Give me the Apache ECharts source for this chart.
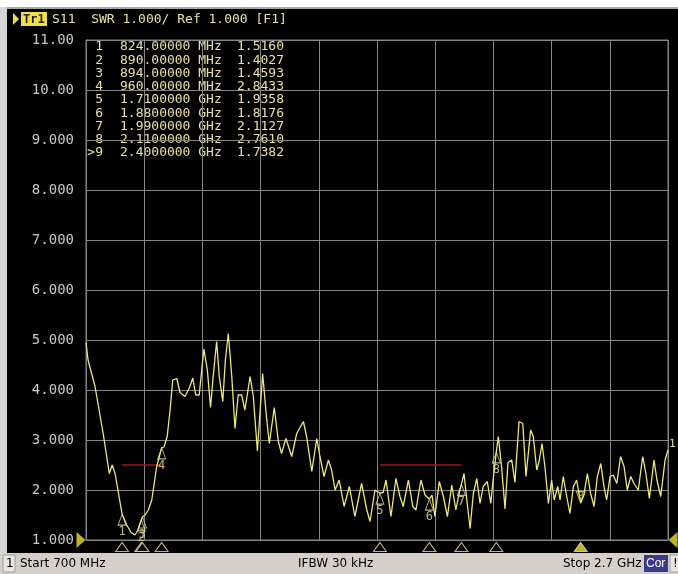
<!DOCTYPE html>
<html><head><meta charset="utf-8">
<script src="https://cdn.jsdelivr.net/npm/echarts@6/dist/echarts.min.js"></script>
<style>html,body{margin:0;padding:0;background:#fff;}#c{width:678px;height:574px;}</style>
</head><body><div id="c"></div>
<script>
// Trace S11 SWR (frequency in MHz)
const traceFreq = [700,707,731,759,780,790,800,824,840,855,868,879,890,894,903,914,926,943,960,968,979,989,998,1012,1023,1040,1055,1067,1077,1089,1105,1117,1128,1137,1149,1158,1170,1179,1189,1201,1212,1223,1235,1246,1264,1275,1289,1307,1320,1330,1347,1361,1372,1387,1407,1424,1447,1458,1476,1493,1504,1518,1533,1544,1556,1570,1587,1605,1624,1647,1665,1676,1693,1710,1721,1731,1748,1765,1779,1790,1808,1823,1834,1851,1865,1880,1889,1899,1914,1928,1942,1957,1971,1982,1990,1999,2010,2020,2031,2043,2054,2065,2079,2091,2102,2110,2117,2128,2140,2150,2163,2174,2188,2201,2212,2228,2237,2249,2258,2267,2277,2289,2300,2309,2321,2329,2340,2351,2363,2375,2386,2400,2411,2423,2434,2446,2457,2469,2480,2489,2501,2512,2524,2537,2549,2560,2572,2583,2598,2613,2624,2636,2652,2662,2675,2690,2700];
const traceSwr = [4.95,4.6,4.07,3.13,2.33,2.5,2.33,1.516,1.3,1.15,1.1,1.2,1.4027,1.4593,1.5,1.6,1.8,2.47,2.8433,2.86,3.07,3.6,4.2,4.23,3.95,3.87,4.04,4.24,3.9,3.9,4.82,4.4,3.65,4.27,4.97,4.27,3.77,4.6,5.13,4.27,3.23,3.9,3.9,3.6,4.27,3.87,2.78,4.33,3.47,2.93,3.65,2.97,2.73,3.03,2.67,3.13,3.37,3.07,2.37,3.03,2.67,2.27,2.6,2.4,2.0,2.2,1.67,2.07,1.47,2.13,1.6,1.37,2.0,1.9358,1.95,2.2,1.47,2.23,1.87,1.67,2.2,1.67,1.6,2.2,1.9,1.8176,1.9,1.47,2.17,1.87,1.47,2.1,1.6,1.93,2.1127,2.33,1.73,1.23,1.93,2.23,1.73,2.07,2.17,1.73,2.37,2.761,3.07,2.47,1.62,2.55,2.6,2.15,3.37,3.33,2.27,3.2,3.07,2.4,2.6,2.93,2.47,1.73,2.2,1.8,2.07,1.8,2.27,1.9,1.53,2.07,2.2,1.7382,1.9,2.33,1.93,1.67,2.27,2.53,2.07,1.8,2.27,2.3,2.13,2.67,2.47,2.0,2.27,2.13,2.0,2.67,2.33,1.83,2.6,2.2,1.87,2.6,2.8];

// Markers
const markerNums = ['1','2','3','4','5','6','7','8','9'];
const markerFreq = [824,890,894,960,1710,1880,1990,2110,2400];
const markerSwr = [1.5160,1.4027,1.4593,2.8433,1.9358,1.8176,2.1127,2.7610,1.7382];
const activeMarker = 8;

// Limit lines
const limitLow = [[824,2.5],[960,2.5]];
const limitHigh = [[1710,2.5],[1990,2.5]];

// Axis
const xStart = 700, xStop = 2700, xStep = 200;
const yMin = 1, yMax = 11, yStep = 1;

const headerText = 'S11  SWR 1.000/ Ref 1.000 [F1]';
const statusStart = 'Start 700 MHz';
const statusIfbw = 'IFBW 30 kHz';
const statusStop = 'Stop 2.7 GHz';

const pale = '#e8e0a0';
const gridCol = '#858585';
const mono = 'DejaVu Sans Mono';

function fmtFreq(f){ return f < 1000 ? f.toFixed(5) + ' MHz' : (f/1000).toFixed(7) + ' GHz'; }

const chart = echarts.init(document.getElementById('c'));

const graphics = [
  {type:'rect', shape:{x:0,y:0,width:678,height:7}, style:{fill:'#ffffff'}},
  {type:'rect', shape:{x:0,y:7,width:678,height:2}, style:{fill:'#a8a8a8'}},
  {type:'rect', shape:{x:0,y:7,width:7,height:547}, style:{fill:'#d6d6d6'}},
  {type:'rect', shape:{x:0,y:553,width:678,height:21}, style:{fill:'#d4d0c8'}},
  {type:'rect', shape:{x:3,y:555,width:12,height:17}, style:{fill:'#e8e6e0', stroke:'#a0a0a0', lineWidth:1}},
  {type:'text', x:6, y:564, style:{text:'1', fill:'#000', font:'12px "DejaVu Sans"', verticalAlign:'middle'}},
  {type:'text', x:20, y:564, style:{text:statusStart, fill:'#000', font:'12px "DejaVu Sans"', verticalAlign:'middle'}},
  {type:'text', x:298, y:564, style:{text:statusIfbw, fill:'#000', font:'12px "DejaVu Sans"', verticalAlign:'middle'}},
  {type:'text', x:563, y:564, style:{text:statusStop, fill:'#000', font:'12px "DejaVu Sans"', verticalAlign:'middle'}},
  {type:'rect', shape:{x:644,y:555,width:24,height:17}, style:{fill:'#3a3a8c'}},
  {type:'text', x:646, y:564, style:{text:'Cor', fill:'#fff', font:'12px "Liberation Sans"', verticalAlign:'middle'}},
  {type:'rect', shape:{x:670,y:555,width:10,height:17}, style:{fill:'#e8e6e0', stroke:'#a0a0a0', lineWidth:1}},
  {type:'text', x:673, y:564, style:{text:'!', fill:'#000', font:'12px "DejaVu Sans"', verticalAlign:'middle'}},
  {type:'polygon', shape:{points:[[13,13],[19,19],[13,25]]}, style:{fill:'#f0e040'}},
  {type:'rect', shape:{x:21,y:12,width:26,height:14}, style:{fill:'#f0e040'}},
  {type:'text', x:23, y:19.5, style:{text:'Tr1', fill:'#202020', font:'bold 12px "DejaVu Sans Mono"', verticalAlign:'middle'}},
  {type:'text', x:52, y:19.5, style:{text:headerText, fill:pale, font:'13px "DejaVu Sans Mono"', verticalAlign:'middle'}}
];
markerNums.forEach((n,i)=>{
  const y = 47 + i*13.25;
  graphics.push({type:'text', x:103, y:y, style:{text:(i===activeMarker?'>':'')+n, fill:pale, font:'13px "DejaVu Sans Mono"', align:'right', verticalAlign:'middle'}});
  graphics.push({type:'text', x:120, y:y, style:{text:fmtFreq(markerFreq[i]), fill:pale, font:'13px "DejaVu Sans Mono"', verticalAlign:'middle'}});
  graphics.push({type:'text', x:237, y:y, style:{text:markerSwr[i].toFixed(4), fill:pale, font:'13px "DejaVu Sans Mono"', verticalAlign:'middle'}});
});

const downTri = 'path://M0,0 L10,0 L5,10 Z';
const rightTri = 'path://M0,0 L10,8 L0,16 Z';
const leftTri = 'path://M10,0 L0,8 L10,16 Z';

chart.setOption({
  backgroundColor:'#000',
  animation:false,
  graphic: graphics,
  grid:{left:86, top:40, width:582, height:500, show:true, borderColor:gridCol, borderWidth:1, backgroundColor:'transparent'},
  xAxis:{type:'value', min:xStart, max:xStop, interval:xStep,
    axisLine:{show:true, lineStyle:{color:gridCol}}, axisTick:{show:false}, axisLabel:{show:false},
    splitLine:{show:true, lineStyle:{color:gridCol, width:1}}},
  yAxis:{type:'value', min:yMin, max:yMax, interval:yStep,
    axisLine:{show:true, lineStyle:{color:gridCol}}, axisTick:{show:false},
    axisLabel:{color:'#c8c8c8', fontFamily:mono, fontSize:14, margin:12,
      formatter:v => v >= 10 ? v.toFixed(2) : v.toFixed(3)},
    splitLine:{show:true, lineStyle:{color:gridCol, width:1}}},
  series:[
    {type:'line', data:limitLow, showSymbol:false, lineStyle:{color:'#a01818', width:1.5}, z:3},
    {type:'line', data:limitHigh, showSymbol:false, lineStyle:{color:'#a01818', width:1.5}, z:3},
    {type:'line', data:traceFreq.map((f,i)=>[f,traceSwr[i]]), showSymbol:false,
      lineStyle:{color:'#ece87c', width:1.3}, z:4,
      endLabel:{show:true, formatter:'1', color:pale, fontSize:11, fontFamily:mono, distance:1, offset:[0,-6]}},
    {type:'scatter', clip:false, z:5,
      data:markerFreq.map((f,i)=>({value:[f,markerSwr[i]], name:markerNums[i]})).filter((d,i)=>i!==activeMarker),
      symbol:'triangle', symbolSize:[8,11], symbolOffset:[0,5.5],
      itemStyle:{color:'rgba(0,0,0,0)', borderColor:pale, borderWidth:1},
      label:{show:true, position:'bottom', distance:0, formatter:p=>p.name, color:pale, fontSize:12, fontFamily:mono}},
    {type:'scatter', clip:false, z:6,
      data:[{value:[markerFreq[activeMarker], markerSwr[activeMarker]], name:markerNums[activeMarker]}],
      symbol:downTri, symbolSize:[9,11], symbolOffset:[0,-6],
      itemStyle:{color:'rgba(0,0,0,0)', borderColor:'#f0e040', borderWidth:1},
      label:{show:true, position:'inside', formatter:p=>p.name, color:'#f0e040', fontSize:11, fontFamily:mono, offset:[0,-1]}},
    {type:'scatter', clip:false, z:5,
      data:markerFreq.map((f,i)=>[f,yMin]),
      symbol:'triangle', symbolSize:[13,9], symbolOffset:[0,7],
      itemStyle:{color:p=> p.dataIndex===activeMarker ? '#f0e030' : '#000', borderColor:pale, borderWidth:1}},
    {type:'scatter', clip:false, z:5,
      data:[[xStart,yMin]], symbol:rightTri, symbolSize:[9,16], symbolOffset:[-5,0],
      itemStyle:{color:'#f0e030'}},
    {type:'scatter', clip:false, z:5,
      data:[[xStop,yMin]], symbol:leftTri, symbolSize:[9,16], symbolOffset:[5,0],
      itemStyle:{color:'#f0e030'}}
  ]
});
</script></body></html>
